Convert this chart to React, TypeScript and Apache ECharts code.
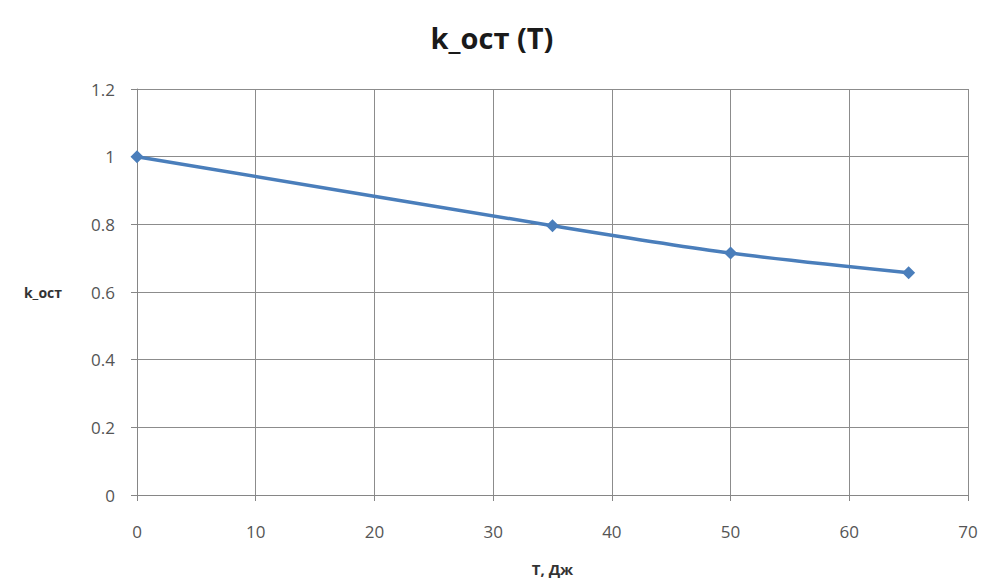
import React, { useEffect, useRef } from "react";
import * as echarts from "echarts";

const titleText = "k_ост (T)";
const xName = "T, Дж";
const yName = "k_ост";
const xValues = [0, 35, 50, 65];
const yValues = [1.0, 0.796, 0.715, 0.657];

export default function App() {
  const ref = useRef<HTMLDivElement>(null);
  useEffect(() => {
    if (!ref.current) return;
    const chart = echarts.init(ref.current, undefined, { renderer: "svg" });
    const font = "'Open Sans', 'Noto Sans', sans-serif";
    chart.setOption({
      animation: false,
      backgroundColor: "#ffffff",
      title: {
        text: titleText,
        left: "center",
        top: 18,
        textStyle: { fontFamily: font, fontSize: 29, fontWeight: "bold", color: "#1a1a1a" },
      },
      grid: { left: 137, right: 16, top: 89, bottom: 86, containLabel: false },
      xAxis: {
        type: "value",
        min: 0,
        max: 70,
        interval: 10,
        name: xName,
        nameLocation: "middle",
        nameGap: 66,
        nameTextStyle: { fontFamily: font, fontSize: 15, fontWeight: "bold", color: "#333" },
        axisLine: { show: true, lineStyle: { color: "#868686", width: 1 } },
        axisTick: { show: true, length: 6, lineStyle: { color: "#868686" } },
        axisLabel: { fontFamily: font, fontSize: 17, color: "#555", margin: 28 },
        splitLine: { show: true, lineStyle: { color: "#8c8c8c", width: 1 } },
      },
      yAxis: {
        type: "value",
        min: 0,
        max: 1.2,
        interval: 0.2,
        name: yName,
        nameLocation: "middle",
        nameRotate: 0,
        nameGap: 75,
        nameTextStyle: { fontFamily: font, fontSize: 14, fontWeight: "bold", color: "#333" },
        axisLine: { show: true, lineStyle: { color: "#868686", width: 1 } },
        axisTick: { show: true, length: 6, lineStyle: { color: "#868686" } },
        axisLabel: {
          fontFamily: font,
          fontSize: 17,
          color: "#555",
          margin: 22,
          formatter: (v: number) => String(Math.round(v * 10) / 10),
        },
        splitLine: { show: true, lineStyle: { color: "#8c8c8c", width: 1 } },
      },
      series: [
        {
          type: "line",
          data: xValues.map((x, i) => [x, yValues[i]]),
          smooth: 0.3,
          symbol: "diamond",
          symbolSize: 13,
          lineStyle: { color: "#4a7ebb", width: 3.5 },
          itemStyle: { color: "#4a7ebb" },
        },
      ],
    });
    return () => chart.dispose();
  }, []);
  return (
    <div
      ref={ref}
      style={{ position: "fixed", left: 0, top: 0, width: 984, height: 581 }}
    />
  );
}
